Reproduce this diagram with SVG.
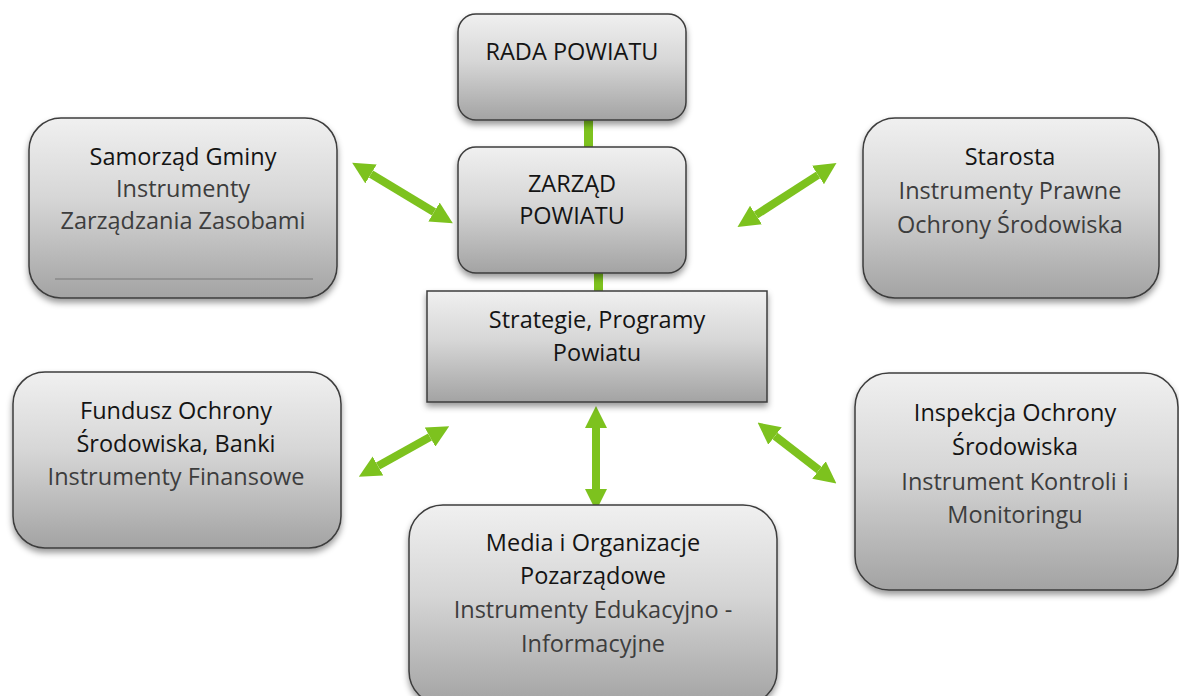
<svg xmlns="http://www.w3.org/2000/svg" width="1179" height="696" viewBox="0 0 1179 696">
<defs>
<linearGradient id="g" x1="0" y1="0" x2="0" y2="1">
<stop offset="0" stop-color="#f0f0f0"/>
<stop offset="0.45" stop-color="#d6d6d6"/>
<stop offset="1" stop-color="#a3a3a3"/>
</linearGradient>
<filter id="sh" x="-10%" y="-10%" width="120%" height="130%">
<feDropShadow dx="0" dy="4" stdDeviation="3" flood-color="#000" flood-opacity="0.4"/>
</filter>
<marker id="ah" markerUnits="userSpaceOnUse" markerWidth="22" markerHeight="22" viewBox="0 0 22 22" refX="0" refY="11" orient="auto-start-reverse">
<path d="M0,0 L22,11 L0,22 z" fill="#7dc21e"/>
</marker>
</defs>
<style>
.box{fill:url(#g);stroke:#3c3c3c;stroke-width:1.5;filter:url(#sh)}
.t{font-family:"Open Sans","Noto Sans",sans-serif;font-size:23.5px;text-anchor:middle;fill:#141414}
.s{fill:#3d3d3d}
.bar{fill:#7dc21e}
.arr{stroke:#7dc21e;stroke-width:8;fill:none;marker-start:url(#ah);marker-end:url(#ah)}
</style>
<rect width="1179" height="696" fill="#ffffff"/>
<g id="connectors">
<rect class="bar" x="584" y="118" width="9" height="31"/>
<rect class="bar" x="594" y="271" width="9" height="22"/>
<line class="arr" x1="371" y1="174" x2="434" y2="212"/>
<line class="arr" x1="818" y1="175" x2="756" y2="215"/>
<line class="arr" x1="430" y1="437" x2="378" y2="466"/>
<line class="arr" x1="775" y1="436" x2="819" y2="470"/>
<line class="arr" x1="596" y1="428" x2="596" y2="489"/>
</g>
<g id="rada">
<rect class="box" x="458" y="14" width="228" height="106" rx="18"/>
<text class="t" x="572" y="60">RADA POWIATU</text>
</g>
<g id="zarzad">
<rect class="box" x="458" y="147" width="228" height="126" rx="18"/>
<text class="t" x="572" y="192">ZARZĄD</text>
<text class="t" x="572" y="224">POWIATU</text>
</g>
<g id="strategie">
<rect class="box" x="427" y="291" width="340" height="111"/>
<text class="t" x="597" y="328">Strategie, Programy</text>
<text class="t" x="597" y="361">Powiatu</text>
</g>
<g id="samorzad">
<rect class="box" x="29" y="118" width="308" height="180" rx="32"/>
<text class="t" x="183" y="165">Samorząd Gminy</text>
<text class="t s" x="183" y="197">Instrumenty</text>
<text class="t s" x="183" y="229">Zarządzania Zasobami</text>
<line x1="55" y1="279" x2="313" y2="279" stroke="#8a8a8a" stroke-width="1.5"/>
</g>
<g id="starosta">
<rect class="box" x="863" y="118" width="296" height="180" rx="32"/>
<text class="t" x="1010" y="165">Starosta</text>
<text class="t s" x="1010" y="199">Instrumenty Prawne</text>
<text class="t s" x="1010" y="233">Ochrony Środowiska</text>
</g>
<g id="fundusz">
<rect class="box" x="13" y="372" width="328" height="176" rx="32"/>
<text class="t" x="176" y="419">Fundusz Ochrony</text>
<text class="t" x="176" y="452">Środowiska, Banki</text>
<text class="t s" x="176" y="485">Instrumenty Finansowe</text>
</g>
<g id="inspekcja">
<rect class="box" x="855" y="373" width="323" height="217" rx="34"/>
<text class="t" x="1015" y="421">Inspekcja Ochrony</text>
<text class="t" x="1015" y="455">Środowiska</text>
<text class="t s" x="1015" y="490">Instrument Kontroli i</text>
<text class="t s" x="1015" y="523">Monitoringu</text>
</g>
<g id="media">
<rect class="box" x="409" y="505" width="368" height="200" rx="34"/>
<text class="t" x="593" y="551">Media i Organizacje</text>
<text class="t" x="593" y="584">Pozarządowe</text>
<text class="t s" x="593" y="618">Instrumenty Edukacyjno -</text>
<text class="t s" x="593" y="652">Informacyjne</text>
</g>
</svg>
